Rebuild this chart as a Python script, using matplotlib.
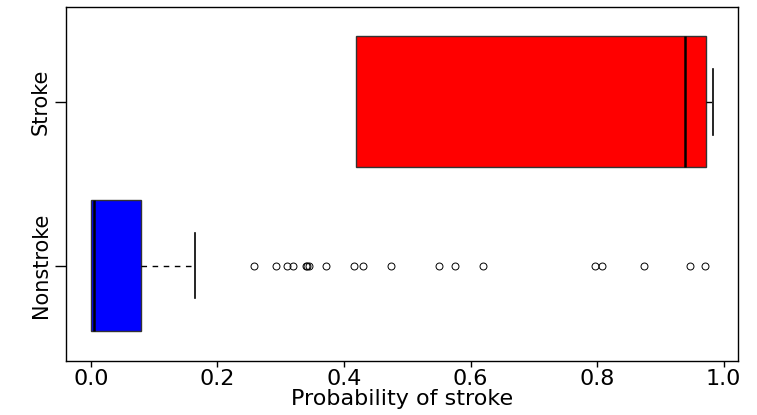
import matplotlib
matplotlib.use("Agg")
import matplotlib.pyplot as plt

# ── Data ─────────────────────────────────────────────────────────────────────
GROUPS = ["Nonstroke", "Stroke"]
Q1 = [0.000, 0.4185]
MEDIAN = [0.0057, 0.9392]
Q3 = [0.0796, 0.9725]
WHIS_LO = [0.000, 0.4185]
WHIS_HI = [0.164, 0.9826]
NONSTROKE_OUTLIERS = [0.2586, 0.2918, 0.3092, 0.3187, 0.3400, 0.3420, 0.3441,
                      0.3710, 0.4153, 0.4296, 0.4739, 0.5499, 0.5752, 0.6195,
                      0.7968, 0.8079, 0.8744, 0.9472, 0.9710]
STROKE_OUTLIERS = []
FLIERS = [NONSTROKE_OUTLIERS, STROKE_OUTLIERS]
COLORS = ["#0000FF", "#FF0000"]
XTICKS = [0.0, 0.2, 0.4, 0.6, 0.8, 1.0]

stats = []
for i, name in enumerate(GROUPS):
    stats.append(dict(label=name, q1=Q1[i], med=MEDIAN[i], q3=Q3[i],
                      whislo=WHIS_LO[i], whishi=WHIS_HI[i], fliers=FLIERS[i]))

fig = plt.figure(figsize=(7.57, 4.15), dpi=100)
ax = fig.add_axes([0.0872, 0.1308, 0.8873, 0.853])

bp = ax.bxp(stats, positions=[1, 2], widths=0.8, capwidths=0.4,
            orientation="horizontal", patch_artist=True,
            boxprops=dict(edgecolor="#333333", linewidth=1.0),
            medianprops=dict(color="black", linewidth=1.8),
            whiskerprops=dict(color="black", linewidth=1.0, linestyle=(0, (4, 4))),
            capprops=dict(color="black", linewidth=1.2),
            flierprops=dict(marker="o", markersize=5, markerfacecolor="none",
                            markeredgecolor="black", markeredgewidth=0.7,
                            linestyle="none"))
for patch, c in zip(bp["boxes"], COLORS):
    patch.set_facecolor(c)
# R draws no staple when the whisker has zero length (min == Q1)
for i in range(len(GROUPS)):
    if WHIS_LO[i] == Q1[i]:
        bp["caps"][2 * i].set_visible(False)

ax.set_xlim(-0.0393, 1.0223)
ax.set_ylim(0.42, 2.58)

ax.set_xticks(XTICKS)
ax.set_xticklabels([f"{t:.1f}" for t in XTICKS], fontsize=16, family="DejaVu Sans")
ax.tick_params(axis="x", length=4, width=1, pad=2)
ax.set_yticks([1, 2])
ax.set_yticklabels(GROUPS, fontsize=15, family="DejaVu Sans", rotation=90,
                   va="center")
ax.tick_params(axis="y", length=8, width=1, pad=3)

ax.set_xlabel("Probability of stroke", fontsize=16, family="DejaVu Sans",
              labelpad=0)

for s in ax.spines.values():
    s.set_linewidth(1.0)
    s.set_color("black")

fig.savefig("out.png", dpi=100, facecolor="white")
